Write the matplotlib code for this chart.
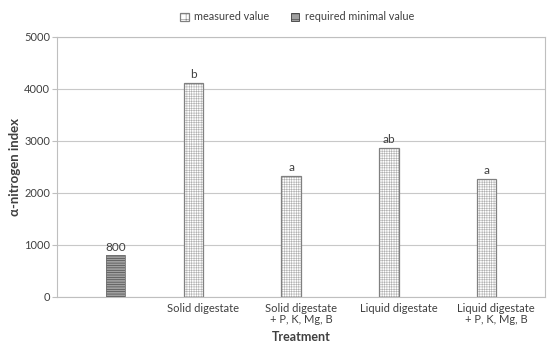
import numpy as np
import matplotlib.pyplot as plt

plt.rcParams['font.family'] = ['Lato', 'DejaVu Sans']
plt.rcParams['hatch.linewidth'] = 0.4

categories = ['', 'Solid digestate', 'Solid digestate\n+ P, K, Mg, B',
              'Liquid digestate', 'Liquid digestate\n+ P, K, Mg, B']
measured = [np.nan, 4110, 2330, 2860, 2270]
minimal = [800, np.nan, np.nan, np.nan, np.nan]
letters = ['', 'b', 'a', 'ab', 'a']

fig = plt.figure(figsize=(5.5, 3.49), dpi=100)
ax = fig.add_axes([0.1036, 0.149, 0.8874, 0.745])

x = np.arange(len(categories))
w = 0.2

# hatch layer (light) then outline layer
ax.bar(x - w / 2, measured, w, color='white', edgecolor='#b0b0b0',
       hatch='+++++++', linewidth=0, zorder=3)
b1 = ax.bar(x - w / 2, measured, w, color='none', edgecolor='#808080',
            linewidth=0.9, label='measured value', zorder=4)
ax.bar(x + w / 2, minimal, w, color='#a0a0a0', edgecolor='#3a3a3a',
       hatch='-------', linewidth=0, zorder=3)
b2 = ax.bar(x + w / 2, minimal, w, color='none', edgecolor='#707070',
            linewidth=0.6, label='required minimal value', zorder=4)

for i, (v, t) in enumerate(zip(measured, letters)):
    if t:
        ax.text(x[i] - w / 2, v + 60, t, ha='center', va='bottom',
                fontsize=8.5, color='#404040')
ax.text(x[0] + w / 2, minimal[0] + 50, '800', ha='center', va='bottom',
        fontsize=8.5, color='#404040')

ax.set_xlim(-0.5, len(categories) - 0.5)
ax.set_ylim(0, 5000)
ax.set_yticks(np.arange(0, 5001, 1000))
ax.set_xticks(x)
ax.set_xticklabels(categories, fontsize=8, color='#404040', linespacing=1.05)
ax.tick_params(axis='x', length=0, pad=4)
ax.tick_params(axis='y', labelsize=8, colors='#404040', length=3.5,
               pad=1.5, color='#bfbfbf')
ax.yaxis.grid(True, color='#c8c8c8', linewidth=0.8, zorder=0)
for s in ax.spines.values():
    s.set_color('#bfbfbf')
    s.set_linewidth(0.8)

ax.set_ylabel('α-nitrogen index', fontsize=9.5, fontweight='bold',
              color='#404040', labelpad=2)
ax.set_xlabel('Treatment', fontsize=9, fontweight='bold', color='#404040',
              labelpad=4)

fig.legend(handles=[b1, b2], loc='upper center', bbox_to_anchor=(0.54, 0.995),
           ncol=2, frameon=False, fontsize=7.8, handlelength=0.8,
           handleheight=0.8, handletextpad=0.5, columnspacing=2.0,
           labelcolor='#404040')
leg = fig.legends[0]
leg.legend_handles[0].set_hatch('+++')
leg.legend_handles[0].set_facecolor('white')
leg.legend_handles[1].set_hatch('---')
leg.legend_handles[1].set_facecolor('#a0a0a0')
leg.legend_handles[1].set_edgecolor('#3a3a3a')

fig.savefig('out.png', dpi=100)
